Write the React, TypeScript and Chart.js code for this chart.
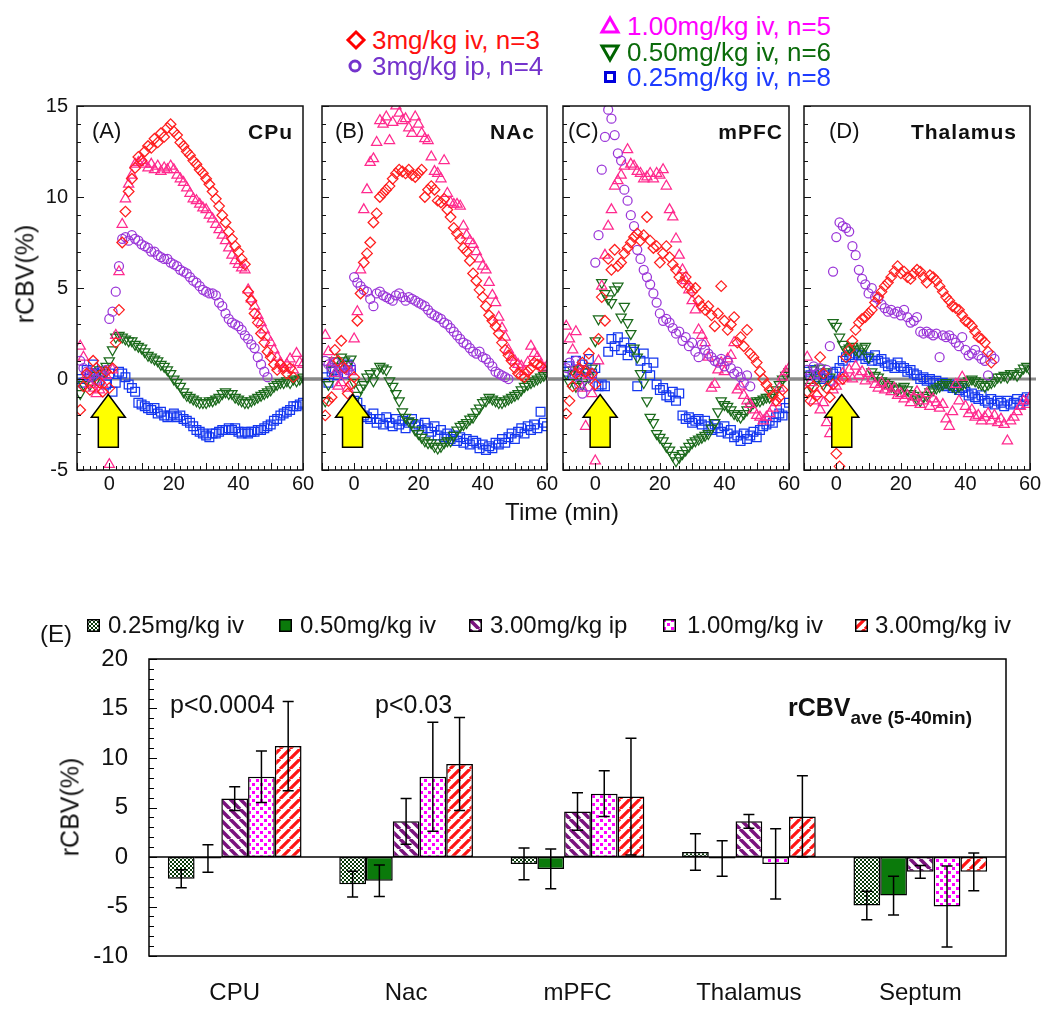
import React, { useEffect, useRef } from 'react';
import { Chart, registerables } from 'chart.js';

Chart.register(...registerables);

const FONT = "'Liberation Sans', Arial, Helvetica, sans-serif";
Chart.defaults.font.family = FONT;
Chart.defaults.color = '#111';

// ---------------- time-course data (rCBV %, one value per minute) ----------------
const TIME = [
  -9, -8, -7, -6, -5, -4, -3, -2, -1, 0,
  1, 2, 3, 4, 5, 6, 7, 8, 9, 10,
  11, 12, 13, 14, 15, 16, 17, 18, 19, 20,
  21, 22, 23, 24, 25, 26, 27, 28, 29, 30,
  31, 32, 33, 34, 35, 36, 37, 38, 39, 40,
  41, 42, 43, 44, 45, 46, 47, 48, 49, 50,
  51, 52, 53, 54, 55, 56, 57, 58, 59, 60,
];

// (A) CPu
const A_RED = [
  -1.7, -0.4, 0.3, -0.6, 1.0, 0.6, -0.2, -0.7, 0.4, -0.5,
  0.6, 2.0, 3.8, 7.5, 9.2, 10.3, 11.0, 11.6, 12.2, 12.0,
  12.5, 12.8, 12.7, 13.2, 13.0, 13.5, 13.3, 13.8, 14.0, 13.6,
  13.4, 13.0, 12.8, 12.5, 12.3, 12.0, 11.8, 11.5, 11.3, 11.0,
  10.7, 10.3, 9.9, 9.5, 9.0, 8.6, 8.1, 7.7, 7.3, 7.0,
  6.6, 6.3, 4.8, 4.3, 3.6, 3.1, 2.5, 2.0, 1.5, 1.2,
  0.8, 0.5, 0.8, 0.6, 0.3, 0.6, 0.1, null, null, null,
];
const A_PURPLE = [
  1.0, 0.6, 0.4, 0.1, 0.3, 0.0, 0.4, 0.2, 0.5, 3.3,
  3.7, 4.8, 6.2, 7.7, 7.8, 7.6, 7.9, 7.7, 7.6, 7.4,
  7.3, 7.2, 7.0, 7.0, 6.8, 6.7, 6.6, 6.6, 6.4, 6.3,
  6.2, 6.0, 5.9, 5.8, 5.6, 5.4, 5.3, 5.1, 4.9, 4.8,
  4.7, 4.7, 4.6, 4.2, 4.0, 3.6, 3.3, 3.1, 3.0, 2.9,
  2.7, 2.4, 2.2, 1.9, 1.7, 1.2, 0.8, 0.4, 0.1, null,
  null, null, null, null, null, null, null, null, null, null,
];
const A_MAGENTA = [
  1.8, 1.2, 0.2, -0.3, -0.5, -0.8, -0.6, -0.3, 0.2, -4.7,
  0.5, 2.4, 5.9, 8.5, 9.9, 10.7, 11.2, 11.8, 11.9, 12.0,
  11.8, 11.6, 11.8, 11.5, 11.7, 11.4, 11.6, 11.5, 11.7, 11.5,
  11.2, 11.0, 10.8, 10.5, 10.2, 9.9, 9.8, 9.6, 9.4, 9.3,
  9.0, 8.8, 8.5, 8.2, 7.9, 7.6, 7.2, 6.8, 6.5, 6.3,
  6.1, 6.0, 4.9, 4.4, 4.0, 3.5, 3.1, 2.7, 2.3, 2.0,
  1.6, 1.2, 0.9, 0.6, 0.8, 1.1, 0.5, 1.4, 0.9, 0.8,
];
const A_GREEN = [
  -0.8, -0.3, -0.1, -0.3, 0.2, 0.0, 0.5, 0.3, 0.7, 1.0,
  1.6, 2.3, 2.4, 2.3, 2.2, 2.1, 2.1, 1.9, 1.8, 1.7,
  1.5, 1.3, 1.2, 1.1, 1.0, 0.8, 0.7, 0.5, 0.3, 0.0,
  -0.2, -0.4, -0.7, -0.9, -1.0, -1.1, -1.2, -1.3, -1.3, -1.3,
  -1.2, -1.2, -1.1, -1.0, -0.8, -0.7, -0.8, -0.8, -1.0, -1.1,
  -1.2, -1.3, -1.3, -1.2, -1.1, -1.0, -0.9, -0.8, -0.7, -0.6,
  -0.4, -0.3, -0.2, -0.2, -0.1, -0.2, 0.0, -0.1, 0.0, 0.1,
];
const A_BLUE = [
  0.0, -0.2, 0.5, 0.2, 0.8, 0.3, -0.1, 0.4, -0.3, 0.3,
  -0.7, -0.2, 0.4, 0.3, 0.1, -0.3, -0.5, -0.7, -1.3, -1.4,
  -1.5, -1.6, -1.7, -1.6, -1.9, -1.8, -2.0, -2.1, -2.0, -1.9,
  -2.1, -2.0, -2.2, -2.3, -2.4, -2.6, -2.8, -2.9, -3.0, -3.1,
  -3.2, -3.0, -3.0, -2.9, -2.8, -2.8, -2.7, -2.8, -2.7, -2.9,
  -3.0, -2.9, -3.0, -2.9, -2.9, -2.8, -2.8, -2.7, -2.6, -2.5,
  -2.3, -2.2, -2.0, -1.9, -1.8, -1.7, -1.5, -1.5, -1.4, -1.3,
];

// (B) NAc
const B_RED = [
  -2.0, -1.2, -1.0, 1.6, 1.0, 2.1, 0.6, -0.8, -0.3, 0.1,
  3.2, 4.7, 6.4, 6.9, 7.5, 8.6, 9.1, 10.0, 10.2, 10.4,
  10.6, 11.0, 11.3, 11.5, 11.4, 11.3, 11.5, 11.2, 11.1, 11.3,
  11.5, 10.0, 10.4, 10.6, 10.4, 9.8, 9.7, 9.9, 9.3, 8.9,
  8.3, 8.0, 7.7, 7.2, 7.0, 6.5, 5.8, 5.4, 4.9, 4.5,
  4.0, 3.5, 3.2, 2.9, 2.5, 2.0, 1.6, 1.3, 1.0, 0.6,
  0.3, 0.2, 0.1, 0.4, 0.6, 0.9, 0.8, 0.7, null, null,
];
const B_PURPLE = [
  1.0, 0.8, 0.6, 0.9, 0.4, 0.6, 0.3, 0.5, 0.7, 5.6,
  5.3, 5.1, 4.9, 4.8, 4.4, 4.0, 4.7, 4.8, 4.6, 4.5,
  4.4, 4.3, 4.6, 4.7, 4.5, 4.3, 4.5, 4.4, 4.3, 4.2,
  4.1, 4.0, 3.8, 3.6, 3.5, 3.4, 3.3, 3.1, 3.0, 2.8,
  2.6, 2.4, 2.2, 2.0, 1.9, 1.7, 1.5, 1.4, 1.5, 1.2,
  1.1, 0.9, 0.7, 0.4, 0.3, 0.2, 0.1, 0.0, null, null,
  null, null, null, null, null, null, null, null, null, null,
];
const B_MAGENTA = [
  2.4, 1.5, 0.9, 0.3, -0.4, -0.2, 0.6, -0.5, 0.4, 2.2,
  3.7, 6.0, 9.3, 10.4, 11.9, 12.1, 13.0, 14.2, 14.0, 14.4,
  13.1, 14.1, 15.0, 14.6, 14.2, 14.3, 13.8, 13.5, 14.4, 14.0,
  13.5, 13.2, 13.1, 12.2, 11.4, 11.3, 11.0, 12.0, 10.2, 9.7,
  9.6, 9.6, 9.5, 8.4, 7.9, 7.6, 7.4, 7.0, 6.6, 6.2,
  6.0, 5.3, 4.6, 4.2, 3.4, 2.8, 2.3, 1.6, 1.2, 1.0,
  0.8, 0.7, 0.4, 0.9, 1.8, 1.4, 1.2, 0.8, 0.6, 0.7,
];
const B_GREEN = [
  -1.2, -0.3, 0.5, 1.0, 0.7, 1.2, 1.0, 0.8, 1.1, -0.2,
  -0.9, -0.5, -0.3, 0.1, 0.3, -0.1, 0.4, 0.7, 0.6, 0.5,
  -0.1, -0.4, -0.8, -1.2, -1.8, -2.1, -2.3, -2.4, -2.8, -3.0,
  -3.2, -3.4, -3.5, -3.5, -3.7, -3.8, -3.7, -3.5, -3.4, -3.4,
  -3.1, -2.8, -2.6, -2.5, -2.4, -2.2, -2.1, -1.8, -1.6, -1.3,
  -1.2, -1.0, -1.1, -1.2, -1.3, -1.3, -1.2, -1.1, -1.0, -0.9,
  -0.8, -0.6, -0.4, -0.3, -0.2, -0.1, 0.0, 0.1, 0.2, 0.3,
];
const B_BLUE = [
  0.1, -0.2, 0.4, 0.5, 0.2, 0.6, 0.3, 0.8, 0.5, -1.2,
  -1.3, -1.7, -2.0, -2.1, -2.2, -1.9, -2.4, -2.2, -2.5, -2.1,
  -2.4, -2.6, -2.2, -2.5, -2.3, -2.7, -2.4, -2.2, -2.6, -2.5,
  -2.8, -2.4, -2.7, -2.9, -2.6, -3.1, -2.8, -3.2, -3.0, -3.3,
  -3.1, -3.4, -3.2, -3.5, -3.3, -3.6, -3.4, -3.5, -3.8, -3.6,
  -3.9, -3.7, -3.8, -3.5, -3.6, -3.3, -3.5, -3.2, -3.0, -3.3,
  -2.9, -2.7, -3.0, -2.6, -2.8, -2.5, -2.7, -1.8, -2.4, -2.6,
];

// (C) mPFC
const C_RED = [
  -1.9, -1.2, -0.4, 0.3, 0.6, 0.9, 0.4, 1.4, 0.3, -0.3,
  2.2, 4.5, 3.2, 6.6, 6.0, 7.1, 6.2, 6.4, 6.9, 7.2,
  7.5, 7.8, 8.0, 7.6, 7.9, 8.9, 7.6, 7.2, 7.3, 6.4,
  6.9, 7.3, 6.7, 6.3, 6.0, 5.6, 5.3, 5.6, 5.1, 4.8,
  5.0, 4.3, 4.0, 3.8, 4.0, 3.5, 2.9, 3.6, 5.1, 3.2,
  2.7, 3.0, 3.4, 2.0, 2.3, 1.8, 2.7, 1.4, 1.2, 0.9,
  0.4, 0.0, -0.3, -0.6, -0.9, -1.2, -1.0, -0.6, null, null,
];
const C_PURPLE = [
  0.6, 0.9, 0.3, 1.0, -0.3, -0.8, 0.5, -0.4, 0.2, 6.4,
  7.9, 11.5, 13.3, 14.8, 14.3, 13.4, 12.4, 12.0, 10.4, 9.8,
  9.0, 8.4, 7.1, 6.6, 6.0, 5.6, 5.2, 4.7, 4.2, 3.6,
  3.2, 3.3, 3.1, 2.8, 2.5, 2.6, 2.1, 2.3, 1.8, 2.0,
  1.5, 1.2, 1.9, 1.6, 1.4, 1.2, 1.0, 0.9, 1.1, 0.7,
  1.0, 0.6, 0.3, 0.4, 0.1, -0.2, 0.2, -0.4, null, null,
  null, null, null, null, null, null, null, null, null, null,
];
const C_MAGENTA = [
  2.9, 2.2, 1.6, 2.6, 0.3, -0.5, -2.6, 0.2, -0.8, -4.5,
  1.0, 5.1, 6.8, 8.4, 9.3, 10.6, 10.9, 11.2, 11.7, 12.6,
  11.8, 11.7, 11.4, 11.3, 11.0, 11.1, 11.3, 11.0, 11.3, 11.2,
  11.5, 10.6, 9.3, 8.9, 7.7, 6.8, 6.0, 5.4, 4.9, 4.3,
  3.8, 2.7, 2.4, 2.0, 1.2, -0.5, -0.3, 0.5, 0.9, 0.4,
  1.1, 1.3, 2.0, -0.6, -0.4, -0.9, -1.2, -1.4, -1.7, -2.0,
  -2.1, -2.3, -2.1, -1.9, -1.6, -1.3, -0.5, 0.1, 0.4, 0.6,
];
const C_GREEN = [
  0.3, -0.2, 0.5, -0.4, 0.2, -0.3, 0.4, 0.1, 0.6, 2.1,
  3.3, 5.3, 4.7, 4.4, 4.2, 4.9, 5.1, 3.4, 4.0, 3.1,
  2.5, 1.7, 1.2, 0.3, -0.2, -1.2, -2.1, -2.4, -3.0, -3.2,
  -3.4, -3.7, -3.9, -4.2, -4.5, -4.3, -4.1, -3.9, -3.7, -3.5,
  -3.4, -3.3, -3.2, -3.1, -3.0, -2.7, -2.4, -1.8, -1.2, -1.4,
  -1.5, -1.7, -1.9, -2.0, -2.1, -1.9, -1.7, -1.5, -1.3, -1.2,
  -1.2, -1.1, -1.0, -1.0, -0.8, -0.6, -0.3, 0.0, 0.2, 0.4,
];
const C_BLUE = [
  0.4, 0.7, 0.2, 1.0, 0.5, 0.8, 0.1, 1.1, 0.3, 0.6,
  -0.4, -0.3, -0.4, 1.5, 2.2, 1.8, 2.3, 1.6, 2.0, 1.3,
  1.7, 1.5, -0.4, 1.0, 1.4, 0.6, 0.2, 0.9, -0.3, -0.6,
  -0.5, -0.9, -1.0, -0.7, -1.2, -0.8, -2.0, -2.2, -2.1, -2.4,
  -2.3, -2.2, -2.5, -2.3, -2.6, -2.8, -2.5, -2.7, -2.9, -2.6,
  -3.0, -2.8, -3.2, -3.1, -3.4, -3.0, -3.3, -3.1, -2.9, -3.2,
  -2.8, -2.6, -2.5, -2.3, -2.4, -2.1, -1.9, -2.0, -1.6, -1.3,
];

// (D) Thalamus
const D_RED = [
  -0.7, -1.2, -0.4, -0.9, 1.2, 0.3, -0.5, -1.0, -0.3, -4.1,
  -4.8, 0.0, 1.2, 1.6, 2.1, 2.7, 3.1, 3.3, 3.4, 3.6,
  3.8, 4.2, 4.5, 4.8, 5.1, 5.3, 5.6, 5.9, 6.2, 5.8,
  5.9, 5.6, 5.5, 5.8, 6.0, 5.9, 5.6, 5.3, 5.7, 5.6,
  5.4, 5.1, 4.8, 4.5, 4.3, 4.0, 3.9, 3.8, 3.5, 3.2,
  3.1, 2.9, 2.6, 2.3, 2.2, 2.0, 1.5, 0.9, null, null,
  null, null, null, null, null, null, null, null, null, null,
];
const D_PURPLE = [
  0.5, 0.2, 0.7, 0.3, 0.6, 0.1, 0.5, 1.8, 5.9, 7.8,
  8.6, 8.4, 8.3, 8.1, 7.3, 6.8, 6.0, 5.5, 5.2, 4.7,
  5.0, 4.5, 4.4, 4.1, 3.9, 3.7, 3.8, 3.6, 3.7, 3.5,
  3.8, 3.4, 3.1, 3.2, 3.4, 2.6, 2.5, 2.6, 2.5, 2.4,
  2.5, 1.2, 2.4, 2.3, 2.4, 2.2, 2.0, 1.8, 2.3, 1.6,
  1.3, 1.4, 1.6, 1.3, 1.1, 1.0, 0.2, 1.3, 1.1, null,
  null, null, null, null, null, null, null, null, null, null,
];
const D_MAGENTA = [
  1.2, -0.2, -1.2, -0.8, -1.7, -1.3, -2.4, -3.0, -0.6, -0.4,
  -0.1, 0.3, 0.1, 0.5, 0.0, 0.7, 0.2, 0.4, -0.1, 0.3,
  0.0, -0.3, -0.5, -0.2, -0.6, -0.4, -0.7, -0.5, -0.9, -0.8,
  -1.1, -0.9, -1.3, -1.0, -0.7, -1.4, -1.2, -0.8, -1.5, -1.1,
  -1.3, -1.6, -1.4, -2.2, -2.6, -1.8, -0.3, -1.2, 0.1, -1.5,
  -1.9, -1.7, -2.1, -2.0, -2.3, -2.1, -1.9, -2.3, -2.0, -2.4,
  -2.2, -2.5, -3.4, -2.3, -2.1, -1.8, -1.5, -1.2, -1.4, -1.0,
];
const D_GREEN = [
  0.2, -0.4, 0.5, 0.0, 0.6, -0.3, 0.4, 0.1, 3.1, 2.9,
  2.3, 1.9, 1.6, 1.7, 1.8, 1.6, 1.5, 1.7, 1.8, 1.2,
  0.4, 0.2, 0.1, -0.1, -0.2, -0.3, -0.4, -0.5, -0.6, -0.5,
  -0.4, -0.6, -0.8, -0.9, -1.1, -1.2, -1.0, -0.9, -0.7, -0.6,
  -0.5, -0.4, -0.3, -0.2, -0.3, -0.4, -0.5, -0.4, -0.3, -0.2,
  -0.1, 0.0, -0.1, -0.2, -0.3, -0.4, -0.3, -0.2, -0.1, 0.1,
  0.1, 0.2, 0.1, 0.3, 0.3, 0.2, 0.4, 0.6, 0.7, 0.5,
];
const D_BLUE = [
  0.4, 0.2, 0.5, 0.1, 0.3, 0.0, 0.2, -0.1, 0.3, 0.4,
  0.6, 1.0, 1.2, 1.3, 1.2, 1.4, 1.3, 1.3, 1.1, 1.2,
  1.0, 1.3, 1.0, 1.1, 0.9, 0.7, 0.8, 0.6, 0.9, 0.7,
  0.6, 0.4, 0.5, 0.3, 0.2, 0.0, 0.1, -0.1, 0.0, -0.2,
  -0.1, -0.3, -0.2, -0.4, -0.3, -0.5, -0.4, -0.6, -0.5, -0.7,
  -0.9, -0.8, -1.0, -1.1, -0.9, -1.2, -1.3, -1.1, -1.4, -1.2,
  -1.3, -1.5, -1.2, -1.4, -1.3, -1.1, -1.4, -1.2, -1.0, -1.1,
];

const SERIES_LABELS = ['3mg/kg iv, n=3', '3mg/kg ip, n=4', '1.00mg/kg iv, n=5', '0.50mg/kg iv, n=6', '0.25mg/kg iv, n=8'];
const X_TICKS = [0, 20, 40, 60];
const ARROW_X = [-0.3, -0.5, 1.5, 1.7];

// ---------------- bar chart data ----------------
const REGIONS = ['CPU', 'Nac', 'mPFC', 'Thalamus', 'Septum'];
const DOSE_LABELS = ['0.25mg/kg iv', '0.50mg/kg iv', '3.00mg/kg ip', '1.00mg/kg iv', '3.00mg/kg iv'];
const DOSE_025 = [-2.2, -2.75, -0.7, 0.5, -4.9];
const DOSE_050 = [-0.15, -2.4, -1.2, -0.15, -3.9];
const DOSE_3IP = [5.9, 3.6, 4.6, 3.6, -1.5];
const DOSE_100 = [8.1, 8.1, 6.4, -0.7, -5.0];
const DOSE_3IV = [11.2, 9.4, 6.1, 4.1, -1.5];
const ERR_025 = [0.9, 1.3, 1.6, 1.85, 1.45];
const ERR_050 = [1.4, 1.6, 2.0, 1.8, 1.95];
const ERR_3IP = [1.2, 2.3, 1.9, 0.7, 0.65];
const ERR_100 = [2.6, 5.5, 2.3, 3.55, 4.1];
const ERR_3IV = [4.5, 4.7, 5.9, 4.1, 1.9];

// ---------------- styles ----------------
const SERIES_STYLE = [
  { pointStyle: 'rectRot', rotation: 0, radius: 5.3, color: '#FF1E1E' },
  { pointStyle: 'circle', rotation: 0, radius: 4.5, color: '#9A35D8' },
  { pointStyle: 'triangle', rotation: 0, radius: 5.9, color: '#FF2A8E' },
  { pointStyle: 'triangle', rotation: 180, radius: 5.9, color: '#1B6A1B' },
  { pointStyle: 'rect', rotation: 0, radius: 6.2, color: '#1437F0' },
];
const BAR_KINDS = ['checker', 'solid', 'back', 'dots', 'fwd'];

const PANEL_TOP = 106;
const PANEL_BOTTOM = 470;
const PANELS = [
  { tag: '(A)', region: 'CPu', left: 77, right: 303, lineL: 0, lineR: 20, series: [A_RED, A_PURPLE, A_MAGENTA, A_GREEN, A_BLUE] },
  { tag: '(B)', region: 'NAc', left: 322, right: 547, lineL: 18, lineR: 18, series: [B_RED, B_PURPLE, B_MAGENTA, B_GREEN, B_BLUE] },
  { tag: '(C)', region: 'mPFC', left: 563, right: 789, lineL: 16, lineR: 16, series: [C_RED, C_PURPLE, C_MAGENTA, C_GREEN, C_BLUE] },
  { tag: '(D)', region: 'Thalamus', left: 804, right: 1030, lineL: 16, lineR: 6, series: [D_RED, D_PURPLE, D_MAGENTA, D_GREEN, D_BLUE] },
];

function makeFill(kind: string): any {
  if (kind === 'solid') return '#0B7A0B';
  const c = document.createElement('canvas');
  const g = c.getContext('2d') as CanvasRenderingContext2D;
  if (kind === 'checker') {
    c.width = 4; c.height = 4;
    g.fillStyle = '#ffffff'; g.fillRect(0, 0, 4, 4);
    g.fillStyle = '#0A3A0A'; g.fillRect(0, 0, 2, 2); g.fillRect(2, 2, 2, 2);
  } else if (kind === 'dots') {
    c.width = 8; c.height = 8;
    g.fillStyle = '#ffffff'; g.fillRect(0, 0, 8, 8);
    g.fillStyle = '#FF00FF'; g.fillRect(0, 0, 3, 3); g.fillRect(4, 4, 3, 3);
  } else {
    c.width = 10; c.height = 10;
    g.fillStyle = '#ffffff'; g.fillRect(0, 0, 10, 10);
    g.strokeStyle = kind === 'back' ? '#7A127E' : '#FF1414';
    g.lineWidth = kind === 'back' ? 3.6 : 3.2;
    g.beginPath();
    for (const o of [-10, 0, 10]) {
      if (kind === 'back') { g.moveTo(o, 0); g.lineTo(o + 10, 10); }
      else { g.moveTo(o, 10); g.lineTo(o + 10, 0); }
    }
    g.stroke();
  }
  return g.createPattern(c, 'repeat');
}

const panelPlugin = {
  id: 'panelDecor',
  beforeDatasetsDraw(chart: any, _a: any, opts: any) {
    const { ctx, chartArea: ca, scales } = chart;
    const y0 = scales.y.getPixelForValue(0);
    ctx.save();
    ctx.strokeStyle = '#8A8A8A';
    ctx.lineWidth = 3;
    ctx.beginPath();
    ctx.moveTo(ca.left - opts.lineL, y0);
    ctx.lineTo(ca.right + opts.lineR, y0);
    ctx.stroke();
    ctx.restore();
  },
  afterDatasetsDraw(chart: any, _a: any, opts: any) {
    const { ctx, chartArea: ca, scales } = chart;
    const xs = scales.x, ys = scales.y;
    ctx.save();
    // yellow arrow at injection time
    const ax = xs.getPixelForValue(opts.arrowX);
    const yTip = ys.getPixelForValue(-0.85);
    const yNeck = ys.getPixelForValue(-2.1);
    const yBase = ys.getPixelForValue(-3.75);
    ctx.beginPath();
    ctx.moveTo(ax, yTip);
    ctx.lineTo(ax + 17, yNeck);
    ctx.lineTo(ax + 10, yNeck);
    ctx.lineTo(ax + 10, yBase);
    ctx.lineTo(ax - 10, yBase);
    ctx.lineTo(ax - 10, yNeck);
    ctx.lineTo(ax - 17, yNeck);
    ctx.closePath();
    ctx.fillStyle = '#FFFF00';
    ctx.fill();
    ctx.strokeStyle = '#000';
    ctx.lineWidth = 1.5;
    ctx.stroke();
    // frame
    ctx.strokeStyle = '#111';
    ctx.lineWidth = 1.5;
    ctx.strokeRect(ca.left, ca.top, ca.right - ca.left, ca.bottom - ca.top);
    // inward ticks
    ctx.lineWidth = 1;
    ctx.beginPath();
    for (let v = ys.min; v <= ys.max; v += 1) {
      const p = Math.round(ys.getPixelForValue(v)) + 0.5;
      const len = v % 5 === 0 ? 7 : 4;
      ctx.moveTo(ca.left, p); ctx.lineTo(ca.left + len, p);
    }
    for (let v = xs.min; v <= xs.max; v += 2) {
      const p = Math.round(xs.getPixelForValue(v)) + 0.5;
      const len = v % 10 === 0 ? 7 : 4;
      ctx.moveTo(p, ca.bottom); ctx.lineTo(p, ca.bottom - len);
    }
    ctx.stroke();
    ctx.restore();
  },
};

const BAR_ERRS = [ERR_025, ERR_050, ERR_3IP, ERR_100, ERR_3IV];

const barPlugin = {
  id: 'barDecor',
  afterDatasetsDraw(chart: any) {
    const { ctx, chartArea: ca, scales } = chart;
    const ys = scales.y;
    ctx.save();
    // zero line
    const y0 = ys.getPixelForValue(0);
    ctx.strokeStyle = '#000';
    ctx.lineWidth = 1.5;
    ctx.beginPath(); ctx.moveTo(ca.left, y0); ctx.lineTo(ca.right, y0); ctx.stroke();
    // error bars
    chart.data.datasets.forEach((ds: any, i: number) => {
      const meta = chart.getDatasetMeta(i);
      meta.data.forEach((bar: any, j: number) => {
        const v = ds.data[j];
        const e = BAR_ERRS[i][j];
        const yHi = ys.getPixelForValue(v + e);
        const yLo = ys.getPixelForValue(v - e);
        ctx.beginPath();
        ctx.moveTo(bar.x, yHi); ctx.lineTo(bar.x, yLo);
        ctx.moveTo(bar.x - 5.5, yHi); ctx.lineTo(bar.x + 5.5, yHi);
        ctx.moveTo(bar.x - 5.5, yLo); ctx.lineTo(bar.x + 5.5, yLo);
        ctx.stroke();
      });
    });
    // frame
    ctx.strokeRect(ca.left, ca.top, ca.right - ca.left, ca.bottom - ca.top);
    // inward ticks on y axis
    ctx.lineWidth = 1;
    ctx.beginPath();
    for (let v = ys.min; v <= ys.max; v += 1) {
      const p = Math.round(ys.getPixelForValue(v)) + 0.5;
      const len = v % 5 === 0 ? 8 : 5;
      ctx.moveTo(ca.left, p); ctx.lineTo(ca.left + len, p);
    }
    ctx.stroke();
    ctx.restore();
  },
};

function Panel({ idx }: { idx: number }) {
  const ref = useRef<HTMLCanvasElement>(null);
  const p = PANELS[idx];
  const YW = 60, XH = 36, PT = 26, PR = 22;
  const w = p.right - p.left + YW + PR;
  const h = PANEL_BOTTOM - PANEL_TOP + PT + XH;
  useEffect(() => {
    const datasets = p.series.map((vals, k) => {
      const st = SERIES_STYLE[k];
      const pts: any[] = [];
      TIME.forEach((t, i) => { if (vals[i] !== null) pts.push({ x: t, y: vals[i] }); });
      return {
        label: SERIES_LABELS[k],
        data: pts,
        showLine: false,
        pointStyle: st.pointStyle,
        pointRotation: st.rotation,
        pointRadius: st.radius,
        pointBorderWidth: 1.25,
        pointBorderColor: st.color,
        pointBackgroundColor: 'rgba(0,0,0,0)',
        borderColor: st.color,
        backgroundColor: 'rgba(0,0,0,0)',
      };
    });
    const chart = new Chart(ref.current as HTMLCanvasElement, {
      type: 'scatter',
      data: { datasets },
      plugins: [panelPlugin],
      options: {
        responsive: false,
        animation: false,
        events: [],
        layout: { autoPadding: false, padding: { left: 0, top: PT, right: PR, bottom: 0 } },
        plugins: {
          legend: { display: false },
          tooltip: { enabled: false },
          panelDecor: { arrowX: ARROW_X[idx], lineL: p.lineL, lineR: p.lineR },
        },
        scales: {
          x: {
            type: 'linear', min: -10, max: 60,
            grid: { display: false, drawTicks: false }, border: { display: false },
            afterBuildTicks: (ax: any) => { ax.ticks = X_TICKS.map((v) => ({ value: v })); },
            ticks: { font: { family: FONT, size: 20 }, color: '#111', padding: 2, maxRotation: 0, autoSkip: false },
            afterFit: (s: any) => { s.height = XH; },
          },
          y: {
            type: 'linear', min: -5, max: 15,
            grid: { display: false, drawTicks: false }, border: { display: false },
            ticks: { display: idx === 0, stepSize: 5, font: { family: FONT, size: 20 }, color: '#111', padding: 9 },
            afterFit: (s: any) => { s.width = YW; },
          },
        },
      } as any,
    });
    return () => chart.destroy();
  }, []);
  return (
    <canvas ref={ref} width={w} height={h}
      style={{ position: 'absolute', left: p.left - YW, top: PANEL_TOP - PT, width: w, height: h }} />
  );
}

function BarChart() {
  const ref = useRef<HTMLCanvasElement>(null);
  const L = 149, T = 659, R = 1006, B = 956;
  const PT = 40;
  const top = T - PT, w = 1050, h = 1018 - top;
  useEffect(() => {
    const vals = [DOSE_025, DOSE_050, DOSE_3IP, DOSE_100, DOSE_3IV];
    const datasets = vals.map((v, i) => ({
      label: DOSE_LABELS[i],
      data: v,
      backgroundColor: makeFill(BAR_KINDS[i]),
      borderColor: '#000',
      borderWidth: 1.5,
      borderSkipped: false,
      categoryPercentage: 0.78,
      barPercentage: 1.0,
    }));
    const chart = new Chart(ref.current as HTMLCanvasElement, {
      type: 'bar',
      data: { labels: REGIONS, datasets },
      plugins: [barPlugin],
      options: {
        responsive: false,
        animation: false,
        events: [],
        layout: { autoPadding: false, padding: { left: 0, top: PT, right: w - R, bottom: 0 } },
        plugins: { legend: { display: false }, tooltip: { enabled: false } },
        scales: {
          x: {
            grid: { display: false, drawTicks: false }, border: { display: false },
            ticks: { font: { family: FONT, size: 24 }, color: '#111', padding: 23 },
            afterFit: (s: any) => { s.height = h - (B - top); },
          },
          y: {
            min: -10, max: 20,
            grid: { display: false, drawTicks: false }, border: { display: false },
            ticks: { stepSize: 5, font: { family: FONT, size: 24 }, color: '#111', padding: 21 },
            afterFit: (s: any) => { s.width = L; },
          },
        },
      } as any,
    });
    return () => chart.destroy();
  }, []);
  return <canvas ref={ref} width={w} height={h} style={{ position: 'absolute', left: 0, top, width: w, height: h }} />;
}

function Swatch({ kind, x, y }: { kind: string; x: number; y: number }) {
  const ref = useRef<HTMLCanvasElement>(null);
  useEffect(() => {
    const c = ref.current as HTMLCanvasElement;
    const g = c.getContext('2d') as CanvasRenderingContext2D;
    g.fillStyle = makeFill(kind);
    g.fillRect(0, 0, c.width, c.height);
    g.strokeStyle = '#000';
    g.lineWidth = 1.5;
    g.strokeRect(0.75, 0.75, c.width - 1.5, c.height - 1.5);
  }, []);
  return <canvas ref={ref} width={13} height={13} style={{ position: 'absolute', left: x, top: y - 6.5 }} />;
}

function Txt({ x, y, size, children, color = '#111', bold = false, anchor = 'left', rotate = false, spacing = 0 }: any) {
  const tx = anchor === 'left' ? '0' : anchor === 'right' ? '-100%' : '-50%';
  return (
    <div style={{
      position: 'absolute', left: x, top: y, fontSize: size, lineHeight: 1, color,
      fontWeight: bold ? 'bold' : 'normal', whiteSpace: 'nowrap', letterSpacing: spacing,
      transform: `translate(${tx}, -50%)${rotate ? ' rotate(-90deg)' : ''}`,
      transformOrigin: rotate ? 'center' : undefined,
    }}>{children}</div>
  );
}

function Marker({ kind, x, y, color }: any) {
  const s = 22;
  let shape: any = null;
  if (kind === 'diamond') shape = <polygon points="11,3 19,11 11,19 3,11" />;
  if (kind === 'circle') shape = <circle cx="11" cy="11" r="5" />;
  if (kind === 'up') shape = <polygon points="11,3 19,17 3,17" />;
  if (kind === 'down') shape = <polygon points="3,5 19,5 11,19" />;
  if (kind === 'square') shape = <rect x="6.5" y="6.5" width="9" height="9" />;
  return (
    <svg width={s} height={s} style={{ position: 'absolute', left: x - s / 2, top: y - s / 2 }}>
      <g fill="none" stroke={color} strokeWidth={3}>{shape}</g>
    </svg>
  );
}

export default function App() {
  const legendTextColors = ['#FF1010', '#7433CC', '#FF00FF', '#0B6B0B', '#1D3BFF'];
  const markerKinds = ['diamond', 'circle', 'up', 'down', 'square'];
  const markerColors = ['#FF0000', '#7433CC', '#FF00FF', '#006400', '#0000DD'];
  const legendPos = [
    { mx: 356, tx: 372, y: 40 },
    { mx: 355, tx: 372, y: 66 },
    { mx: 610, tx: 627, y: 26 },
    { mx: 610, tx: 627, y: 52 },
    { mx: 610, tx: 627, y: 77 },
  ];
  const tagPos = [
    { tag: 92, reg: 293 },
    { tag: 335, reg: 535 },
    { tag: 568, reg: 783 },
    { tag: 829, reg: 1017 },
  ];
  const swatchX = [87, 279, 469, 663, 855];
  const swatchTextX = [108, 300, 490, 687, 875];
  return (
    <div style={{ position: 'fixed', left: 0, top: 0, width: 1050, height: 1018, background: '#fff', fontFamily: FONT, overflow: 'hidden' }}>
      {PANELS.map((_, i) => <Panel key={i} idx={i} />)}
      <BarChart />

      {SERIES_LABELS.map((lab, i) => (
        <React.Fragment key={lab}>
          <Marker kind={markerKinds[i]} x={legendPos[i].mx} y={legendPos[i].y} color={markerColors[i]} />
          <Txt x={legendPos[i].tx} y={legendPos[i].y} size={26} color={legendTextColors[i]}>{lab}</Txt>
        </React.Fragment>
      ))}

      {PANELS.map((p, i) => (
        <React.Fragment key={p.tag}>
          <Txt x={tagPos[i].tag} y={131} size={22}>{p.tag}</Txt>
          <Txt x={tagPos[i].reg} y={131} size={21} bold anchor="right" spacing={1}>{p.region}</Txt>
        </React.Fragment>
      ))}

      <Txt x={25} y={274} size={25} anchor="center" rotate>rCBV(%)</Txt>
      <Txt x={562} y={512} size={24} anchor="center">Time (min)</Txt>

      <Txt x={40} y={634} size={24}>(E)</Txt>
      {DOSE_LABELS.map((lab, i) => (
        <React.Fragment key={i}>
          <Swatch kind={BAR_KINDS[i]} x={swatchX[i]} y={625} />
          <Txt x={swatchTextX[i]} y={625} size={24}>{lab}</Txt>
        </React.Fragment>
      ))}
      <Txt x={70} y={807} size={25} anchor="center" rotate>rCBV(%)</Txt>
      <Txt x={170} y={704} size={25}>p&lt;0.0004</Txt>
      <Txt x={375} y={704} size={25}>p&lt;0.03</Txt>
      <div style={{ position: 'absolute', left: 788, top: 695, whiteSpace: 'nowrap', fontWeight: 'bold', color: '#111', lineHeight: 1 }}>
        <span style={{ fontSize: 25 }}>rCBV</span>
        <span style={{ fontSize: 19, position: 'relative', top: 8 }}>ave (5-40min)</span>
      </div>
    </div>
  );
}
